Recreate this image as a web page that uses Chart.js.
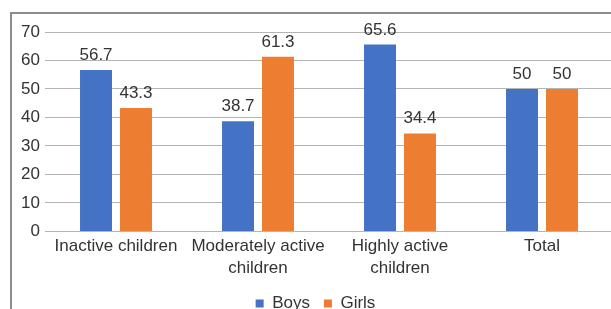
<!DOCTYPE html>
<html>
<head>
<meta charset="utf-8">
<script src="https://cdn.jsdelivr.net/npm/chart.js@4.4.0/dist/chart.umd.min.js"></script>
<style>
  html, body { margin: 0; padding: 0; background: #fff; overflow: hidden; }
  body { width: 611px; height: 309px; position: relative; }
  #frame { position: absolute; left: 10px; top: 12px; width: 700px; height: 400px;
           border-left: 2px solid #8c8c8c; border-top: 2px solid #8c8c8c; }
  #wrap { position: absolute; left: 0; top: 0; width: 620px; height: 322px; }
</style>
</head>
<body>
<div id="frame"></div>
<div id="wrap"><canvas id="activityChart"></canvas></div>
<script>
// ------- data -------
const categories = [
  'Inactive children',
  ['Moderately active', 'children'],
  ['Highly active', 'children'],
  'Total'
];
const boys = [56.7, 38.7, 65.6, 50];
const girls = [43.3, 61.3, 34.4, 50];
const yTicks = [0, 10, 20, 30, 40, 50, 60, 70];

const textColor = '#333333';
const fontFamily = '"Liberation Sans", Arial, sans-serif';
const legendPad = 14;

// value labels above the bars
const barValues = {
  id: 'barValues',
  afterDatasetsDraw(chart) {
    const ctx = chart.ctx;
    ctx.save();
    ctx.font = '17px ' + fontFamily;
    ctx.fillStyle = textColor;
    ctx.textAlign = 'center';
    ctx.textBaseline = 'alphabetic';
    chart.data.datasets.forEach(function(ds, i) {
      chart.getDatasetMeta(i).data.forEach(function(bar, j) {
        ctx.fillText(String(ds.data[j]), bar.x, bar.y - 10);
      });
    });
    ctx.restore();
  }
};

// nudge the legend a little to the right, like the original
const legendShift = {
  id: 'legendShift',
  afterLayout(chart) {
    if (chart.legend) {
      chart.legend.left += 9;
      chart.legend.right += 9;
    }
  }
};

const data = {
  labels: categories,
  datasets: [
    {
      label: 'Boys',
      data: boys,
      backgroundColor: '#4472C4',
    },
    {
      label: 'Girls',
      data: girls,
      backgroundColor: '#ED7D31',
    }
  ]
};

const config = {
  type: 'bar',
  data: data,
  options: {
    responsive: true,
    maintainAspectRatio: false,
    animation: false,
    categoryPercentage: 0.563,
    barPercentage: 0.8,
    layout: {
      padding: { top: 32, left: 0, right: 7, bottom: 0 }
    },
    scales: {
      x: {
        grid: { display: false, drawTicks: false },
        border: { display: false },
        ticks: {
          color: textColor,
          padding: 4,
          maxRotation: 0,
          autoSkip: false,
          font: { family: fontFamily, size: 17, lineHeight: 1.3 }
        },
        afterFit: function(scale) { scale.height = 63.6 - legendPad; }
      },
      y: {
        min: 0,
        max: 70,
        afterBuildTicks: function(scale) {
          scale.ticks = yTicks.map(function(v) { return { value: v }; });
        },
        grid: { color: '#b4b4b4', lineWidth: 1, drawTicks: false },
        border: { display: false },
        ticks: {
          color: textColor,
          padding: 5,
          font: { family: fontFamily, size: 17 }
        },
        afterFit: function(scale) { scale.width = 45; }
      }
    },
    plugins: {
      legend: {
        position: 'bottom',
        labels: {
          color: textColor,
          boxWidth: 8,
          boxHeight: 8,
          padding: legendPad,
          font: { family: fontFamily, size: 17 }
        }
      },
      tooltip: { enabled: false }
    }
  },
  plugins: [barValues, legendShift]
};

myChart = new Chart(
  document.getElementById('activityChart'),
  config
);
</script>
</body>
</html>
